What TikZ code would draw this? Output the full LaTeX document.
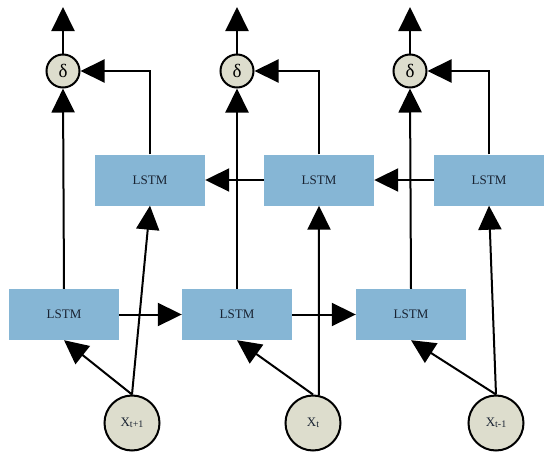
\documentclass[tikz,border=0pt]{standalone}
\usepackage{fontspec}
\setmainfont{Liberation Serif}
\usepackage{xcolor}
\usetikzlibrary{arrows.meta}

\definecolor{lstmblue}{RGB}{134,182,213}
\definecolor{cellgray}{RGB}{221,221,205}
\definecolor{textnavy}{RGB}{25,35,50}

\tikzset{
  lstmbox/.style={rectangle, fill=lstmblue, minimum width=110pt, minimum height=51pt,
    inner sep=0pt, font=\fontsize{13}{15}\selectfont, text=textnavy},
  sigcell/.style={circle, draw, line width=2pt, fill=cellgray, minimum size=33pt,
    inner sep=0pt, font=\fontsize{19}{20}\selectfont},
  inpcell/.style={circle, draw, line width=2pt, fill=cellgray, minimum size=55pt,
    inner sep=0pt, font=\fontsize{13}{15}\selectfont, text=textnavy},
  flow/.style={line width=2pt, -{Triangle[length=24pt,width=23pt]}}
}

\begin{document}
\begin{tikzpicture}[x=1pt,y=-1pt]
        \useasboundingbox (0,0) rectangle (550,458);

        % Inputs
        \node[inpcell] (x1) at (132,423) {X\raisebox{-1.5pt}{\fontsize{10}{11}\selectfont t+1}};
        \node[inpcell] (x2) at (313,423) {X\raisebox{-1.5pt}{\fontsize{10}{11}\selectfont t}};
        \node[inpcell] (x3) at (496,423) {X\raisebox{-1.5pt}{\fontsize{10}{11}\selectfont t-1}};

        % Forward row
        \node[lstmbox] (f1) at (64,314.5) {LSTM};
        \node[lstmbox] (f2) at (237,314.5) {LSTM};
        \node[lstmbox] (f3) at (411,314.5) {LSTM};

        % Backward row
        \node[lstmbox] (b1) at (150,180) {LSTM};
        \node[lstmbox] (b2) at (319,180) {LSTM};
        \node[lstmbox] (b3) at (489,180) {LSTM};

        % Outputs
        \node[sigcell] (s1) at (63,71) {δ};
        \node[sigcell] (s2) at (237,71) {δ};
        \node[sigcell] (s3) at (410,71) {δ};

        \coordinate (o1) at (63,7);
        \coordinate (o2) at (237,7);
        \coordinate (o3) at (410,7);

        \draw[flow] (s1) -- (o1);
        \draw[flow] (s2) -- (o2);
        \draw[flow] (s3) -- (o3);

        % Forward links
        \draw[flow] (f1) -- (f2);
        \draw[flow] (f2) -- (f3);
        \draw[flow] (f1.north) -- (s1.south);
        \draw[flow] (f2.north) -- (s2.south);
        \draw[flow] (f3.north) -- (s3.south);

        % Backward links
        \draw[flow] (b3) -- (b2);
        \draw[flow] (b2) -- (b1);
        \draw[flow] (b1.north) |- (s1.east);
        \draw[flow] (b2.north) |- (s2.east);
        \draw[flow] (b3.north) |- (s3.east);

        % Input links
        \draw[flow] (x1.north) -- (f1.south);
        \draw[flow] (x1.north) -- (b1.south);
        \draw[flow] (x2.north) -- (f2.south);
        \draw[flow] (x2.78) -- (b2.south);
        \draw[flow] (x3.north) -- (f3.south);
        \draw[flow] (x3.north) -- (b3.south);
    \end{tikzpicture}
\end{document}
